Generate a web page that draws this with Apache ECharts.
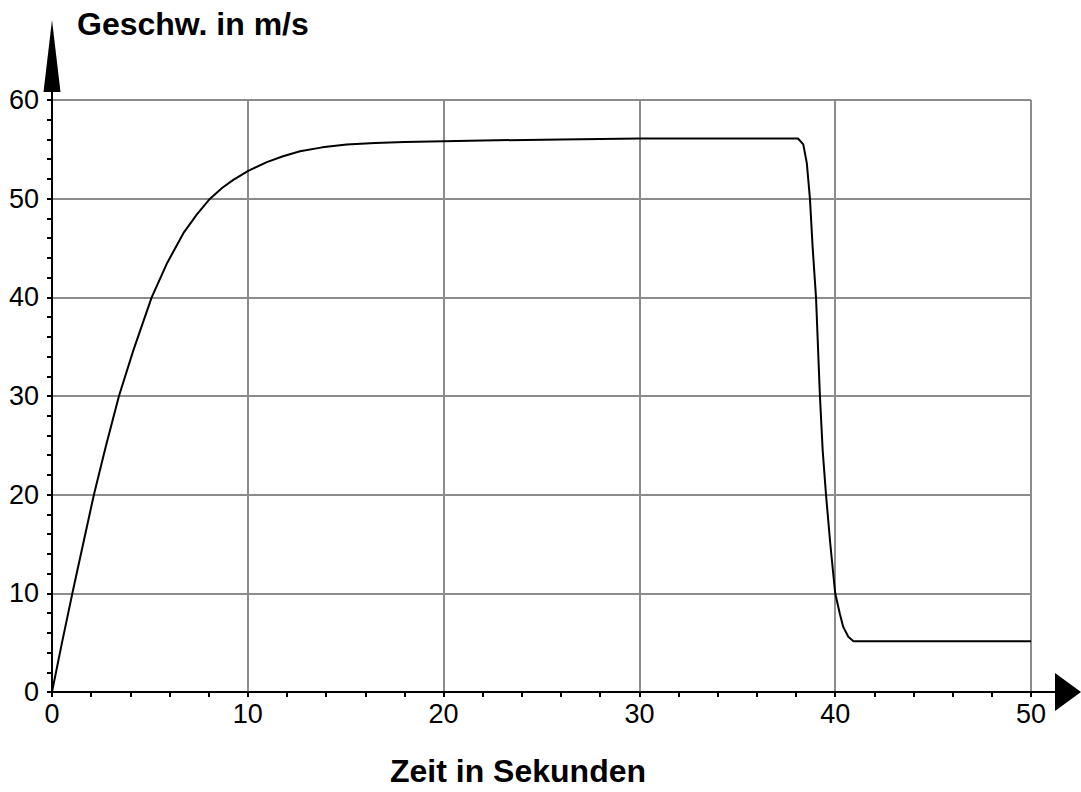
<!DOCTYPE html>
<html><head><meta charset="utf-8">
<script src="https://cdn.jsdelivr.net/npm/echarts@6/dist/echarts.min.js"></script>
<style>html,body{margin:0;padding:0;background:#fff}#c{width:1081px;height:792px}</style>
</head><body><div id="c"></div>
<script>
// Data
const timeS = [0, 0.5, 1.04, 1.6, 2.14, 2.75, 3.42, 4.15, 5.09, 5.86, 6.71, 7.4, 8.07, 8.7, 9.26, 10, 10.97, 11.8, 12.67, 13.8, 15.05, 16.5, 18, 22, 26, 30, 38.1, 38.37, 38.55, 38.71, 38.85, 39.02, 39.22, 39.36, 39.53, 39.75, 40.0, 40.24, 40.41, 40.67, 40.93, 50];
const speed = [0, 4.9, 10, 15.1, 20, 24.9, 30, 34.6, 40, 43.4, 46.5, 48.4, 50, 51.1, 51.9, 52.8, 53.7, 54.3, 54.8, 55.2, 55.5, 55.65, 55.75, 55.9, 56.0, 56.1, 56.1, 55.5, 53.6, 50, 45, 40, 30, 24.5, 20, 15, 10, 7.9, 6.6, 5.6, 5.15, 5.15];
const xTickLabels = ['0', '10', '20', '30', '40', '50'];
const yTickLabels = ['0', '10', '20', '30', '40', '50', '60'];
const xTitle = 'Zeit in Sekunden';
const yTitle = 'Geschw. in m/s';

const chart = echarts.init(document.getElementById('c'), null, {renderer: 'svg'});
const font = '"Liberation Sans", Arial, sans-serif';
const axisCommon = {
  type: 'value',
  interval: 10,
  axisLine: {show: true, onZero: false, lineStyle: {color: '#000', width: 2}},
  axisTick: {show: true, inside: false, length: 5, lineStyle: {color: '#000', width: 2}},
  minorTick: {show: true, splitNumber: 5, length: 5, lineStyle: {color: '#000', width: 2}},
  splitLine: {show: true, lineStyle: {color: '#8c8c8c', width: 2}},
  minorSplitLine: {show: false}
};
chart.setOption({
  animation: false,
  backgroundColor: '#fff',
  grid: {left: 52, right: 50, top: 100, bottom: 100},
  xAxis: Object.assign({}, axisCommon, {
    min: 0, max: 50,
    axisLabel: {fontSize: 27, color: '#000', fontFamily: font, margin: 8,
      formatter: v => xTickLabels[Math.round(v / 10)] ?? ''}
  }),
  yAxis: Object.assign({}, axisCommon, {
    min: 0, max: 60,
    axisLabel: {fontSize: 27, color: '#000', fontFamily: font, margin: 13,
      formatter: v => yTickLabels[Math.round(v / 10)] ?? ''}
  }),
  series: [{
    type: 'line',
    data: timeS.map((t, i) => [t, speed[i]]),
    showSymbol: false,
    symbol: 'none',
    lineStyle: {color: '#000', width: 2},
    z: 5
  }]
});

const o = chart.convertToPixel({gridIndex: 0}, [0, 0]);
const e = chart.convertToPixel({gridIndex: 0}, [50, 60]);
chart.setOption({
  graphic: [
    {type: 'line', shape: {x1: o[0], y1: e[1] + 1, x2: o[0], y2: e[1] - 10}, style: {stroke: '#000', lineWidth: 2}},
    {type: 'polygon', shape: {points: [[o[0], e[1] - 80], [o[0] - 8.5, e[1] - 8], [o[0] + 8.5, e[1] - 8]]}, style: {fill: '#000'}},
    {type: 'line', shape: {x1: e[0] - 1, y1: o[1], x2: e[0] + 26, y2: o[1]}, style: {stroke: '#000', lineWidth: 2}},
    {type: 'polygon', shape: {points: [[e[0] + 50, o[1]], [e[0] + 24, o[1] - 19], [e[0] + 24, o[1] + 19]]}, style: {fill: '#000'}},
    {type: 'text', left: 77, top: 8, style: {text: yTitle, font: 'bold 32px ' + font, fill: '#000'}},
    {type: 'text', left: 390, top: 755, style: {text: xTitle, font: 'bold 32px ' + font, fill: '#000'}}
  ]
});
</script>
</body></html>
